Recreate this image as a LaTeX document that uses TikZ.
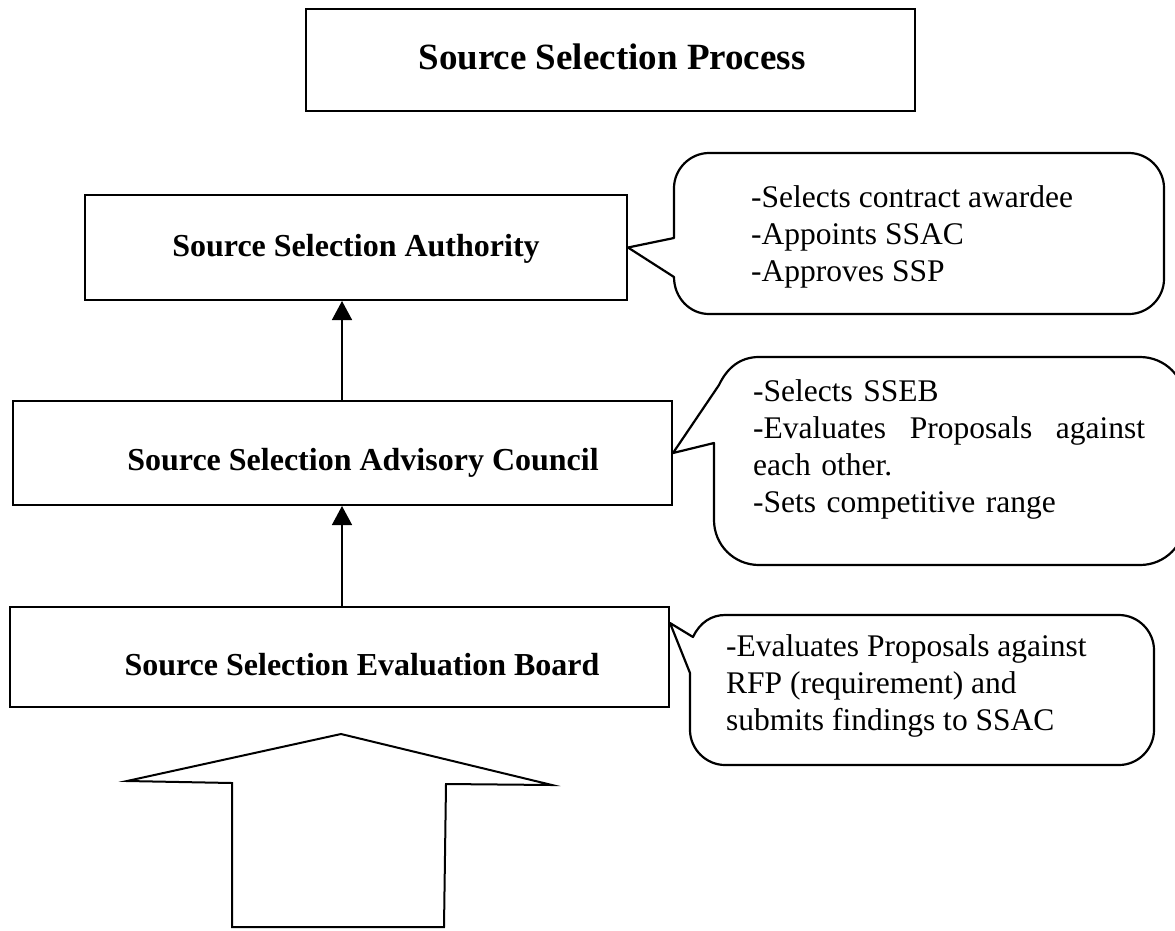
\documentclass[tikz,border=0pt]{standalone}
\usepackage{fontspec}
\setmainfont{Liberation Serif}
\usetikzlibrary{arrows.meta}
\begin{document}
\begin{tikzpicture}[x=1pt,y=-1pt,
  box/.style={draw, line width=2pt, inner sep=0pt},
  lbl/.style={font=\fontsize{32}{38}\selectfont\bfseries, inner sep=0pt, anchor=base},
  ttl/.style={font=\fontsize{37}{44}\selectfont\bfseries, inner sep=0pt, anchor=base},
  co/.style={draw, line width=2.2pt, line join=round},
  ctext/.style={font=\fontsize{31.5}{37}\selectfont, inner sep=0pt, anchor=north west, align=left},
  arr/.style={line width=1.5pt, -{Triangle[width=20pt,length=19pt]}},
  blockarrow/.style={draw, line width=2pt, line join=miter}]
\clip (0,0) rectangle (1175,930);
\fill[white] (0,0) rectangle (1175,930);

% boxes
\node (title) [box, minimum width=609pt, minimum height=102pt] at (610.5,60) {};
\node (ttltext) [ttl] at (612,69) {Source Selection Process};

\node (ssa) [box, minimum width=542pt, minimum height=105pt] at (356,247.5) {};
\node (ssatext) [lbl] at (356,256) {Source Selection Authority};

\node (ssac) [box, minimum width=659pt, minimum height=104pt] at (342.5,453) {};
\node (ssactext) [lbl] at (363,470) {Source Selection Advisory Council};

\node (seb) [box, minimum width=659pt, minimum height=100pt] at (339.5,657) {};
\node (sebtext) [lbl] at (362,675) {Source Selection Evaluation Board};

% connectors
\coordinate (ax) at (342,0);
\draw[arr] (ax |- ssac.north) -- (ax |- ssa.south);
\draw[arr] (ax |- seb.north) -- (ax |- ssac.south);

% callout 1
\draw[co] (674,238) -- (ssa.east) -- (674,277)
  .. controls (674,298) and (690,314) .. (709,314) -- (1129,314)
  .. controls (1148,314) and (1164,298) .. (1164,279) -- (1164,188)
  .. controls (1164,169) and (1148,153) .. (1129,153) -- (709,153)
  .. controls (690,153) and (674,169) .. (674,188) -- cycle;
\node (c1) [ctext] at (751,185) {-Selects contract awardee\\-Appoints SSAC\\-Approves SSP};

% callout 2
\draw[co] (714,443) -- (ssac.east) -- (719,385)
  .. controls (727,368) and (740,357) .. (759,357) -- (1140,357)
  .. controls (1165,357) and (1185,377) .. (1185,402) -- (1185,520)
  .. controls (1185,545) and (1165,565) .. (1140,565) -- (759,565)
  .. controls (734,565) and (714,545) .. (714,520) -- cycle;
\node (c2) [ctext, text width=392pt] at (753,379) {-Selects SSEB\\-Evaluates\hfill Proposals\hfill against\\each other.\\-Sets competitive range};

% callout 3
\draw[co] (690,673) -- ([yshift=-17pt]seb.north east) -- (693,637)
  .. controls (700,622) and (712,615) .. (725,615) -- (1119,615)
  .. controls (1138,615) and (1154,631) .. (1154,650) -- (1154,730)
  .. controls (1154,749) and (1138,765) .. (1119,765) -- (725,765)
  .. controls (706,765) and (690,749) .. (690,730) -- cycle;
\node (c3) [ctext] at (726,634) {-Evaluates Proposals against\\RFP (requirement) and\\submits findings to SSAC};

% block arrow
\draw[blockarrow] (341,734) -- (552,785) -- (446,784) -- (444,927) -- (232,927) -- (232,783) -- (127,781) -- cycle;
\end{tikzpicture}
\end{document}
